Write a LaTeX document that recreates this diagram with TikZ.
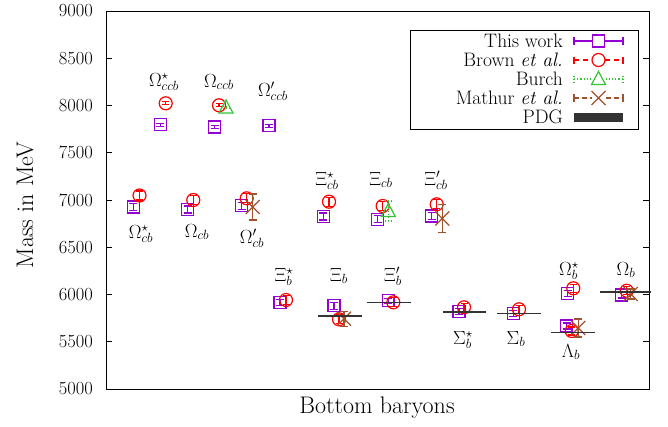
\RequirePackage{fix-cm}
\documentclass[tikz,border=0pt]{standalone}
\definecolor{twc}{HTML}{9400D3}
\definecolor{brc}{HTML}{FF0000}
\definecolor{buc}{HTML}{33C433}
\definecolor{mac}{HTML}{A0522D}
\definecolor{pdgc}{HTML}{333333}
\tikzset{
  twline/.style={draw=twc, line width=1.2pt},
  brline/.style={draw=brc, line width=1.2pt},
  buline/.style={draw=buc, line width=1.2pt},
  maline/.style={draw=mac, line width=1.2pt},
  pdgline/.style={draw=pdgc, line width=1.6pt},
  framestyle/.style={draw=black, line width=1pt},
  lbl/.style={font=\fontsize{19}{21}\selectfont, anchor=base, inner sep=0pt},
  ticklbl/.style={font=\fontsize{18.5}{20}\selectfont, anchor=east, inner sep=0pt},
  leglbl/.style={font=\fontsize{19.5}{21}\selectfont, anchor=east, inner sep=0pt},
  axlbl/.style={font=\fontsize{24}{26}\selectfont, inner sep=0pt}
}
% this work: x y err
\newcommand\TWpt[3]{%
  \draw[twline] (#1-6,#2-6) rectangle (#1+6,#2+6);
  \draw[twline] (#1,#2-#3) -- (#1,#2+#3) (#1-4,#2-#3) -- (#1+4,#2-#3) (#1-4,#2+#3) -- (#1+4,#2+#3);
}
\newcommand\BRpt[3]{%
  \draw[brline] (#1,#2) circle (6.5pt);
  \draw[brline] (#1,#2-#3) -- (#1,#2+#3) (#1-3.5,#2-#3) -- (#1+3.5,#2-#3) (#1-3.5,#2+#3) -- (#1+3.5,#2+#3);
}
\newcommand\BUpt[3]{%
  \draw[buline, line join=miter] (#1,#2-7.5) -- (#1-7,#2+5.5) -- (#1+7,#2+5.5) -- cycle;
  \draw[buline, dotted] (#1,#2-#3) -- (#1,#2+#3) (#1-3.5,#2-#3) -- (#1+3.5,#2-#3) (#1-3.5,#2+#3) -- (#1+3.5,#2+#3);
}
\newcommand\MApt[3]{%
  \draw[maline] (#1-7,#2-7) -- (#1+7,#2+7) (#1-7,#2+7) -- (#1+7,#2-7);
  \draw[maline] (#1,#2-#3) -- (#1,#2+#3) (#1-4,#2-#3) -- (#1+4,#2-#3) (#1-4,#2+#3) -- (#1+4,#2+#3);
}
\begin{document}
\begin{tikzpicture}[x=1pt,y=-1pt]
\useasboundingbox (0,0) rectangle (668,426);
% frame and ticks
\draw[framestyle] (106,11) rectangle (649,389);
\foreach \m [evaluate=\m as \yy using {389-(\m-5000)*0.0945}] in {5000,5500,...,9000}{
  \draw[framestyle] (106,\yy) -- (112,\yy) (649,\yy) -- (643,\yy);
  \node[ticklbl] (tick\m) at (93,\yy) {\m};
}
\node[axlbl, rotate=90] (ylab) at (25,205) {Mass in MeV};
\node[axlbl] (xlab) at (377,408) {Bottom baryons};

% group labels
\node[lbl] (lOmccbS) at (164,86) {$\Omega^{\star}_{ccb}$};
\node[lbl] (lOmccb) at (219,87) {$\Omega_{ccb}$};
\node[lbl] (lOmccbP) at (273,96) {$\Omega'_{ccb}$};
\node[lbl] (lOmcbS) at (141,238) {$\Omega^{\star}_{cb}$};
\node[lbl] (lOmcb) at (197,237) {$\Omega_{cb}$};
\node[lbl] (lOmcbP) at (252,243) {$\Omega'_{cb}$};
\node[lbl] (lXicbS) at (327,185) {$\Xi^{\star}_{cb}$};
\node[lbl] (lXicb) at (381,185) {$\Xi_{cb}$};
\node[lbl] (lXicbP) at (436,185) {$\Xi'_{cb}$};
\node[lbl] (lXibS) at (284,281) {$\Xi^{\star}_{b}$};
\node[lbl] (lXib) at (339,281) {$\Xi_{b}$};
\node[lbl] (lXibP) at (393,281) {$\Xi'_{b}$};
\node[lbl] (lSibS) at (463,344) {$\Sigma^{\star}_{b}$};
\node[lbl] (lSib) at (516,344) {$\Sigma_{b}$};
\node[lbl] (lLab) at (571,357) {$\Lambda_{b}$};
\node[lbl] (lOmbS) at (569,275) {$\Omega^{\star}_{b}$};
\node[lbl] (lOmb) at (626,275) {$\Omega_{b}$};

% This work
\TWpt{160.3}{124.7}{1.5}
\TWpt{214.7}{127}{1.5}
\TWpt{269}{125.7}{1.5}
\TWpt{133.3}{207}{3.5}
\TWpt{187.5}{209.5}{3.5}
\TWpt{241.7}{205.7}{3.5}
\TWpt{323.3}{216.5}{3.5}
\TWpt{377.7}{219.3}{3.5}
\TWpt{431.7}{216}{3.5}
\TWpt{280}{302.3}{3}
\TWpt{334}{305.7}{3.5}
\TWpt{388.3}{300.7}{2.5}
\TWpt{459}{311.7}{3}
\TWpt{513.3}{313.3}{3}
\TWpt{567.7}{293.3}{3}
\TWpt{566.7}{326}{3}
\TWpt{621.7}{295}{3}
% Brown et al.
\BRpt{165.7}{103.3}{1.5}
\BRpt{219}{105.3}{1.5}
\BRpt{139.5}{195.5}{4.5}
\BRpt{193.3}{200}{4.5}
\BRpt{246.7}{198.3}{4.5}
\BRpt{329}{201.7}{4.5}
\BRpt{382.7}{206}{4.5}
\BRpt{436.7}{204.3}{4.5}
\BRpt{286}{300}{4.5}
\BRpt{339}{319.3}{4.5}
\BRpt{393.3}{302.3}{4.5}
\BRpt{464}{307.3}{4}
\BRpt{519}{309.3}{4}
\BRpt{573.3}{288.3}{4}
\BRpt{571.7}{331}{4}
\BRpt{626.7}{290.7}{4}
% Burch
\BUpt{226}{107.5}{1}
\BUpt{388.3}{211}{10}
% Mathur et al.
\MApt{252.7}{207}{13}
\MApt{442.3}{218.5}{14}
\MApt{344}{318.7}{7.5}
\MApt{578.3}{328}{9}
\MApt{630.7}{294}{5}
% PDG
\draw[pdgline] (318,315.7) -- (362,315.7);
\draw[pdgline] (367,302.3) -- (411,302.3);
\draw[pdgline] (443,311.7) -- (486,311.7);
\draw[pdgline] (497,313.3) -- (541,313.3);
\draw[pdgline] (551,332.3) -- (595,332.3);
\draw[pdgline] (600,291.7) -- (651,291.7);

% legend
\draw[framestyle, fill=white] (410,30.5) rectangle (638,129);
\node[leglbl] (legTW) at (563,41) {This work};
\node[leglbl] (legBR) at (563,60) {Brown \textit{et al.}};
\node[leglbl] (legBU) at (563,79) {Burch};
\node[leglbl] (legMA) at (563,98) {Mathur \textit{et al.}};
\node[leglbl] (legPDG) at (563,117) {PDG};
% legend samples
\draw[twline] (574,41) -- (592.5,41) (604.5,41) -- (623,41) (574,37) -- (574,45) (623,37) -- (623,45);
\draw[twline] (592.5,35) rectangle (604.5,47);
\draw[brline, dash pattern=on 5pt off 4pt] (574,60) -- (592,60) (605,60) -- (623,60);
\draw[brline] (574,56.5) -- (574,63.5) (623,56.5) -- (623,63.5);
\draw[brline] (598.5,60) circle (6.5pt);
\draw[buline, dotted] (574,79) -- (591.5,79) (605.5,79) -- (623,79) (574,75.5) -- (574,82.5) (623,75.5) -- (623,82.5);
\draw[buline, line join=miter] (598.5,71.5) -- (591.5,84.5) -- (605.5,84.5) -- cycle;
\draw[maline, dash pattern=on 5pt off 3pt] (574,98) -- (591.5,98) (605.5,98) -- (623,98);
\draw[maline] (574,94) -- (574,102) (623,94) -- (623,102);
\draw[maline] (591.5,91) -- (605.5,105) (591.5,105) -- (605.5,91);
\fill[pdgc] (574,112.5) rectangle (623,121.5);
\end{tikzpicture}
\end{document}
